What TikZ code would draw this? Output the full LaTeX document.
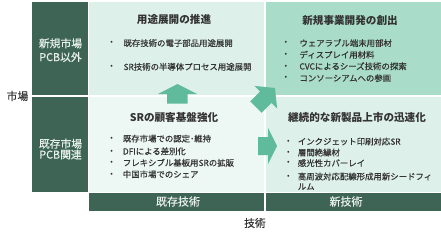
\documentclass[tikz,border=0pt]{standalone}
\usepackage{fontspec}
\setmainfont{Noto Sans CJK JP}
\newfontfamily\medfont{Noto Sans CJK JP}[FakeBold=0.35]
\definecolor{dkgreen}{RGB}{62,100,86}
\definecolor{mintA}{RGB}{221,240,233}
\definecolor{tealB}{RGB}{169,220,201}
\definecolor{mintC}{RGB}{237,247,243}
\definecolor{arrowc}{RGB}{95,187,155}
\definecolor{txt}{RGB}{51,51,51}
\definecolor{lbl}{RGB}{232,240,236}
\begin{document}
\begin{tikzpicture}[x=1pt,y=-1pt,
  cell/.style={anchor=north west, inner sep=0pt, outer sep=0pt, draw=none},
  head/.style={font=\fontsize{10.6}{12}\selectfont\bfseries, text=txt, inner sep=0pt},
  item/.style={font=\medfont\fontsize{8.4}{10}\selectfont, text=txt, anchor=base west, inner sep=0pt},
  dot/.style={font=\fontsize{7.5}{8}\selectfont, text=txt, inner sep=0pt},
  side/.style={font=\medfont\fontsize{10.8}{12}\selectfont, text=lbl, inner sep=0pt},
  barlbl/.style={font=\medfont\fontsize{11}{12}\selectfont, text=lbl, inner sep=0pt},
  axis/.style={font=\medfont\fontsize{10.8}{12}\selectfont, text=txt, inner sep=0pt},
  blockarrow/.style={fill=arrowc, draw=none}]
\useasboundingbox (0,0) rectangle (441,234);

% left column
\node[cell, fill=dkgreen, minimum width=56pt, minimum height=93.3pt] (ltop) at (32.3,2) {};
\node[cell, fill=dkgreen, minimum width=56pt, minimum height=94.8pt] (lbot) at (32.3,97) {};
% quadrants
\node[cell, fill=mintA, minimum width=175pt, minimum height=93.3pt] (tl) at (89.4,2) {};
\node[cell, fill=tealB, minimum width=174.5pt, minimum height=93.3pt] (tr) at (266,2) {};
\node[cell, fill=mintC, minimum width=175pt, minimum height=94.8pt] (bl) at (89.4,97) {};
\node[cell, fill=mintA, minimum width=174.5pt, minimum height=94.8pt] (br) at (266,97) {};
% bottom bars
\node[cell, fill=dkgreen, minimum width=175pt, minimum height=17.8pt] (bar1) at (89.4,193.2) {};
\node[cell, fill=dkgreen, minimum width=174.5pt, minimum height=17.8pt] (bar2) at (266,193.2) {};

% block arrows
\fill[blockarrow] (167,103.5) -- (167,94) -- (158,94) -- (177.5,84) -- (197,94) -- (187.5,94) -- (187.5,103.5) -- cycle;
\fill[blockarrow] (250.2,101.4) -- (260.1,91.5) -- (254.5,85.9) -- (275,88) -- (277.1,108.5) -- (271.5,102.9) -- (261.6,112.8) -- cycle;
\fill[blockarrow] (258,137) -- (268,137) -- (268,128) -- (277,146) -- (268,164) -- (268,155) -- (258,155) -- cycle;

% side labels
\node[side] (m1a) at (60.5,43.3) {新規市場};
\node[side] (m1b) at (60.5,57) {PCB以外};
\node[side] (m2a) at (60.5,143.7) {既存市場};
\node[side] (m2b) at (60.5,154.5) {PCB関連};
\node[axis] (ylab) at (17.5,96) {市場};
\node[axis] (xlab) at (255,223) {技術};
\node[barlbl] (b1) at (178,201.5) {既存技術};
\node[barlbl] (b2) at (346,201.5) {新技術};

% headers
\node[head] (h1) at (174,19.5) {用途展開の推進};
\node[head] (h2) at (350,20) {新規事業開発の創出};
\node[head] (h3) at (174,117.5) {SRの顧客基盤強化};
\node[head] (h4) at (357,117.5) {継続的な新製品上市の迅速化};

% top-left items
\node[dot] (d11) at (111.7,43.3) {•};
\node[item] (i11) at (123.3,46.3) {既存技術の電子部品用途展開};
\node[dot] (d12) at (111.7,67) {•};
\node[item] (i12) at (123.3,70) {SR技術の半導体プロセス用途展開};

% top-right items
\node[dot] (d21) at (286,43.3) {•};
\node[item] (i21) at (299.3,46.3) {ウェアラブル端末用部材};
\node[dot] (d22) at (286,55) {•};
\node[item] (i22) at (299.3,58) {ディスプレイ用材料};
\node[dot] (d23) at (286,66.5) {•};
\node[item] (i23) at (299.3,69.5) {CVCによるシーズ技術の探索};
\node[dot] (d24) at (286,78.3) {•};
\node[item] (i24) at (299.3,81.3) {コンソーシアムへの参画};

% bottom-left items
\node[dot] (d31) at (111.7,138.8) {•};
\node[item] (i31) at (122.7,141.8) {既存市場での認定･維持};
\node[dot] (d32) at (111.7,151.5) {•};
\node[item] (i32) at (122.7,154.5) {DFIによる差別化};
\node[dot] (d33) at (111.7,163) {•};
\node[item] (i33) at (122.7,166) {フレキシブル基板用SRの拡販};
\node[dot] (d34) at (111.7,174.5) {•};
\node[item] (i34) at (122.7,177.5) {中国市場でのシェア};

% bottom-right items
\node[dot] (d41) at (288.3,141.7) {•};
\node[item] (i41) at (297.7,144.7) {インクジェット印刷対応SR};
\node[dot] (d42) at (288.3,152.7) {•};
\node[item] (i42) at (297.7,155.7) {層間絶縁材};
\node[dot] (d43) at (288.3,163.3) {•};
\node[item] (i43) at (297.7,166.3) {感光性カバーレイ};
\node[dot] (d44) at (288.3,176.7) {•};
\node[item] (i44) at (297.7,179.7) {高周波対応配線形成用新シードフィ};
\node[item] (i45) at (297.7,189.7) {ルム};
\end{tikzpicture}
\end{document}
